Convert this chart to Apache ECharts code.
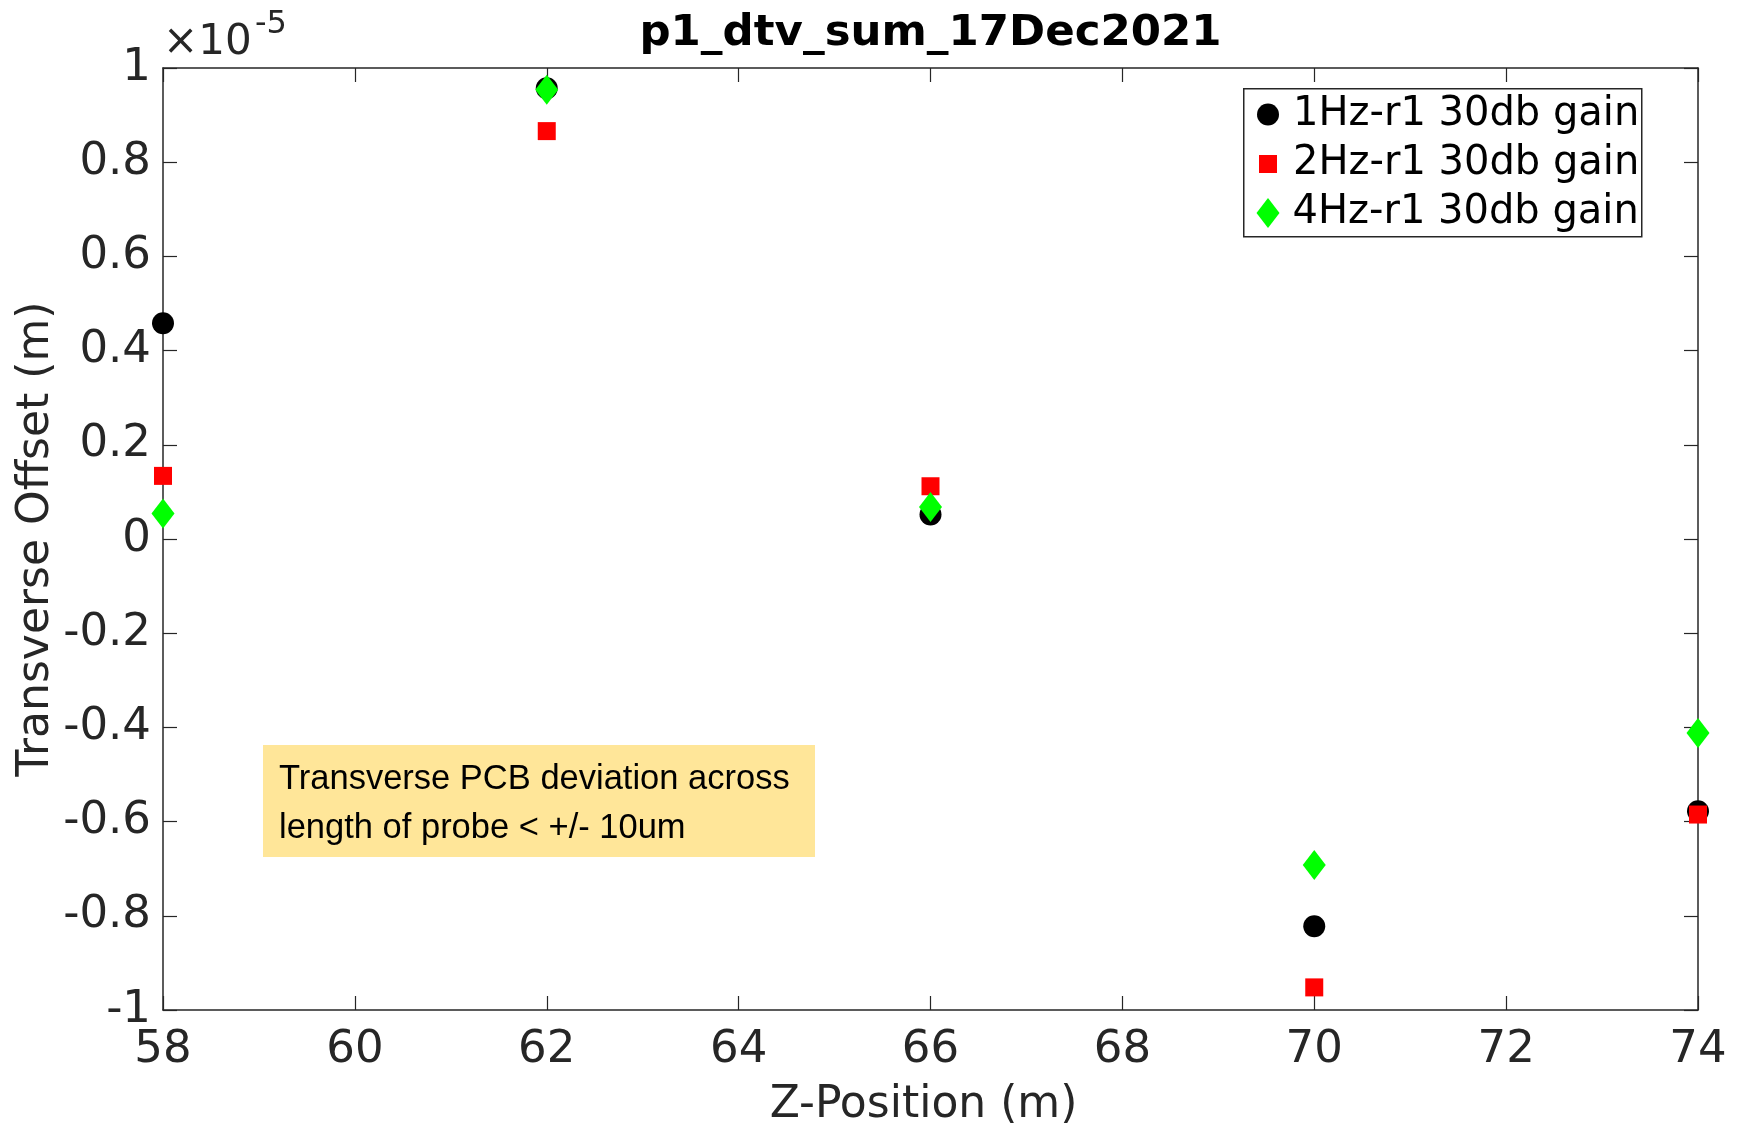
<!DOCTYPE html>
<html>
<head>
<meta charset="utf-8">
<script src="https://cdn.jsdelivr.net/npm/echarts@6/dist/echarts.min.js"></script>
<style>
  html, body { margin: 0; padding: 0; background: #ffffff; }
  #chart { width: 1740px; height: 1125px; }
</style>
</head>
<body>
<div id="chart"></div>
<script>
// ---- data (transverse offset in units of 1e-5 m) ----
const zPositions = [58, 62, 66, 70, 74];
const offset1Hz = [0.458, 0.957, 0.052, -0.822, -0.578];
const offset2Hz = [0.134, 0.866, 0.112, -0.952, -0.585];
const offset4Hz = [0.054, 0.954, 0.068, -0.692, -0.412];
const seriesNames = ['1Hz-r1 30db gain', '2Hz-r1 30db gain', '4Hz-r1 30db gain'];
const chartTitle = 'p1_dtv_sum_17Dec2021';
const xAxisTitle = 'Z-Position (m)';
const yAxisTitle = 'Transverse Offset (m)';
const yExponent = '-5';
const noteLines = ['Transverse PCB deviation across', 'length of probe < +/- 10um'];
const xRange = [58, 74];
const yRange = [-1, 1];

const FONT = 'DejaVu Sans';
const AXC = '#262626';

const toPoints = vals => zPositions.map((z, i) => [z, vals[i]]);

const chart = echarts.init(document.getElementById('chart'), null, { renderer: 'canvas', width: 1740, height: 1125 });

const axisCommon = {
  axisLine: { show: true, onZero: false, lineStyle: { color: AXC, width: 1.5 } },
  axisTick: { show: true, inside: true, length: 14, lineStyle: { color: AXC, width: 1.2 } },
  splitLine: { show: false }
};

const legendCommon = {
  orient: 'vertical',
  padding: 0,
  selectedMode: false,
  textStyle: { fontFamily: FONT, fontSize: 40, color: '#000000' }
};

const option = {
  backgroundColor: '#ffffff',
  animation: false,
  title: {
    text: chartTitle,
    left: 930.5,
    top: 12,
    textAlign: 'center',
    padding: 0,
    textStyle: { fontFamily: FONT, fontSize: 43.5, fontWeight: 'bold', color: '#000000' }
  },
  grid: { left: 163, right: 42, top: 68, bottom: 115, containLabel: false, outerBoundsMode: 'none' },
  legend: [
    Object.assign({}, legendCommon, {
      data: [{ name: seriesNames[0], icon: 'circle' }],
      left: 1257, top: 94.5, itemWidth: 22, itemHeight: 22,
      textStyle: Object.assign({}, legendCommon.textStyle, { padding: [0, 0, 0, 9] })
    }),
    Object.assign({}, legendCommon, {
      data: [{ name: seriesNames[1], icon: 'rect' }],
      left: 1259, top: 144, itemWidth: 18, itemHeight: 18,
      textStyle: Object.assign({}, legendCommon.textStyle, { padding: [0, 0, 0, 11] })
    }),
    Object.assign({}, legendCommon, {
      data: [{ name: seriesNames[2], icon: 'diamond' }],
      left: 1256.5, top: 193, itemWidth: 23, itemHeight: 30,
      textStyle: Object.assign({}, legendCommon.textStyle, { padding: [0, 0, 0, 8] })
    })
  ],
  xAxis: [
    Object.assign({}, axisCommon, {
      type: 'value', position: 'bottom', min: xRange[0], max: xRange[1], interval: 2,
      name: xAxisTitle, nameLocation: 'middle', nameGap: 74, nameMoveOverlap: false,
      nameTextStyle: { fontFamily: FONT, fontSize: 44, color: AXC, padding: [0, 14, 0, 0] },
      axisLabel: { show: true, margin: 18, fontFamily: FONT, fontSize: 45, color: AXC, showMinLabel: true, showMaxLabel: true, hideOverlap: false }
    }),
    Object.assign({}, axisCommon, {
      type: 'value', position: 'top', min: xRange[0], max: xRange[1], interval: 2,
      axisLabel: { show: false }
    })
  ],
  yAxis: [
    Object.assign({}, axisCommon, {
      type: 'value', position: 'left', min: yRange[0], max: yRange[1], interval: 0.2,
      name: yAxisTitle, nameLocation: 'middle', nameGap: 104, nameRotate: 90, nameMoveOverlap: false,
      nameTextStyle: { fontFamily: FONT, fontSize: 44, color: AXC },
      axisLabel: {
        show: true, margin: 12, fontFamily: FONT, fontSize: 45, color: AXC,
        showMinLabel: true, showMaxLabel: true, hideOverlap: false,
        formatter: v => String(+(+v).toFixed(1))
      }
    }),
    Object.assign({}, axisCommon, {
      type: 'value', position: 'right', min: yRange[0], max: yRange[1], interval: 0.2,
      axisLabel: { show: false }
    })
  ],
  graphic: [
    {
      type: 'text', left: 163, top: 22.5, z: 10,
      style: { text: '×10', fontFamily: FONT, fontSize: 42, fill: AXC }
    },
    {
      type: 'text', left: 255, top: 8.5, z: 10,
      style: { text: yExponent, fontFamily: FONT, fontSize: 32, fill: AXC }
    },
    {
      type: 'rect', left: 263, top: 745, z: 5,
      shape: { width: 552, height: 112 },
      style: { fill: '#FFE699' }
    },
    {
      type: 'text', left: 279, top: 755.5, z: 6,
      style: {
        text: noteLines.join('\n'),
        fontFamily: 'Liberation Sans', fontSize: 34.5, lineHeight: 48.5, fill: '#000000'
      }
    },
    {
      type: 'rect', left: 1243, top: 88, z: 4,
      shape: { width: 398, height: 148 },
      style: { fill: '#ffffff', stroke: AXC, lineWidth: 1.5 }
    }
  ],
  series: [
    {
      name: seriesNames[0], type: 'scatter', data: toPoints(offset1Hz),
      symbol: 'circle', symbolSize: 22, itemStyle: { color: '#000000', opacity: 1 }, z: 2
    },
    {
      name: seriesNames[1], type: 'scatter', data: toPoints(offset2Hz),
      symbol: 'rect', symbolSize: 18, itemStyle: { color: '#FF0000', opacity: 1 }, z: 3
    },
    {
      name: seriesNames[2], type: 'scatter', data: toPoints(offset4Hz),
      symbol: 'diamond', symbolSize: [23, 30], itemStyle: { color: '#00FF00', opacity: 1 }, z: 4
    }
  ]
};

chart.setOption(option);
</script>
</body>
</html>
